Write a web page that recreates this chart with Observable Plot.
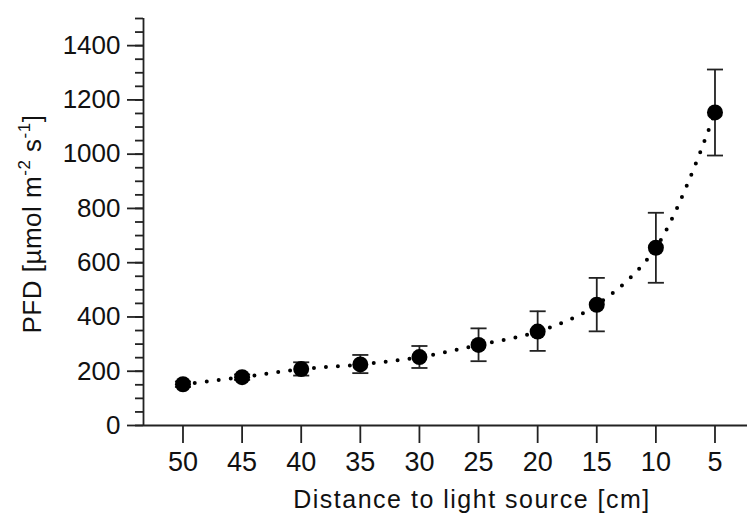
<!DOCTYPE html>
<html>
<head>
<meta charset="utf-8">
<script src="https://cdn.jsdelivr.net/npm/d3@7"></script>
<script src="https://cdn.jsdelivr.net/npm/@observablehq/plot@0.6"></script>
<style>
  html, body { margin: 0; padding: 0; background: #fff; }
  svg text { font-family: "Liberation Sans", Arial, sans-serif; }
</style>
</head>
<body>
<div id="chart"></div>
<script>
const distances = [50, 45, 40, 35, 30, 25, 20, 15, 10, 5];
const pfd       = [152, 178, 208, 225, 252, 297, 346, 445, 655, 1154];
const errLow    = [142, 168, 184, 193, 212, 237, 275, 347, 526, 995];
const errHigh   = [162, 188, 233, 260, 293, 358, 421, 544, 784, 1312];
const yMajorTicks = [0, 200, 400, 600, 800, 1000, 1200, 1400];
const yMinorTicks = d3.range(0, 1501, 50);
const xLabel = "Distance to light source [cm]";

const data = distances.map((d, i) => ({x: d, y: pfd[i], lo: errLow[i], hi: errHigh[i]}));

const W = 747, H = 516;
const xDomain = [53.34, 2.25];
const yDomain = [0, 1500];
const capHalf = 0.68;
const ink = "#222";

const plot = Plot.plot({
  width: W,
  height: H,
  marginLeft: 143,
  marginRight: 0,
  marginTop: 18,
  marginBottom: 91,
  style: {fontFamily: "Liberation Sans, Arial, sans-serif", fontSize: "26px", background: "#fff", color: ink},
  x: {domain: xDomain, label: null},
  y: {domain: yDomain, label: null},
  marks: [
    Plot.axisY({ticks: yMinorTicks, tickSize: 8, tickFormat: () => "", stroke: ink, strokeWidth: 1.8}),
    Plot.axisY({ticks: yMajorTicks, tickSize: 16, tickPadding: 7, tickFormat: d => String(d), stroke: ink, strokeWidth: 1.8, fill: "#111", fontSize: 26}),
    Plot.axisX({ticks: distances, tickSize: 18, tickPadding: 8, tickFormat: d => String(d), stroke: ink, strokeWidth: 1.8, fill: "#111", fontSize: 27}),
    Plot.ruleY([0], {stroke: ink, strokeWidth: 1.8}),
    Plot.ruleX([xDomain[0]], {y1: yDomain[0], y2: yDomain[1], stroke: ink, strokeWidth: 1.8}),
    Plot.line(data, {x: "x", y: "y", curve: "catmull-rom", stroke: "#000", strokeWidth: 4, strokeDasharray: "0,12", strokeLinecap: "round"}),
    Plot.ruleX(data, {x: "x", y1: "lo", y2: "hi", stroke: ink, strokeWidth: 1.8}),
    Plot.link(data, {x1: d => d.x - capHalf, x2: d => d.x + capHalf, y1: "lo", y2: "lo", stroke: ink, strokeWidth: 1.8}),
    Plot.link(data, {x1: d => d.x - capHalf, x2: d => d.x + capHalf, y1: "hi", y2: "hi", stroke: ink, strokeWidth: 1.8}),
    Plot.dot(data, {x: "x", y: "y", r: 8, fill: "#000", stroke: null})
  ]
});

const svg = d3.select(plot);
// x-axis title
svg.append("text")
  .attr("x", 472).attr("y", 508)
  .attr("text-anchor", "middle")
  .attr("font-size", 25)
  .attr("letter-spacing", 1.5)
  .attr("fill", "#111")
  .text(xLabel);
// y-axis title with superscripts
const yt = svg.append("text")
  .attr("transform", "translate(41,224) rotate(-90)")
  .attr("text-anchor", "middle")
  .attr("font-size", 26)
  .attr("letter-spacing", 0.5)
  .attr("fill", "#111");
yt.append("tspan").text("PFD [µmol m");
yt.append("tspan").attr("font-size", 17).attr("dy", -11).text("-2");
yt.append("tspan").attr("dy", 11).text(" s");
yt.append("tspan").attr("font-size", 17).attr("dy", -11).text("-1");
yt.append("tspan").attr("dy", 11).text("]");

document.getElementById("chart").appendChild(plot);
</script>
</body>
</html>
